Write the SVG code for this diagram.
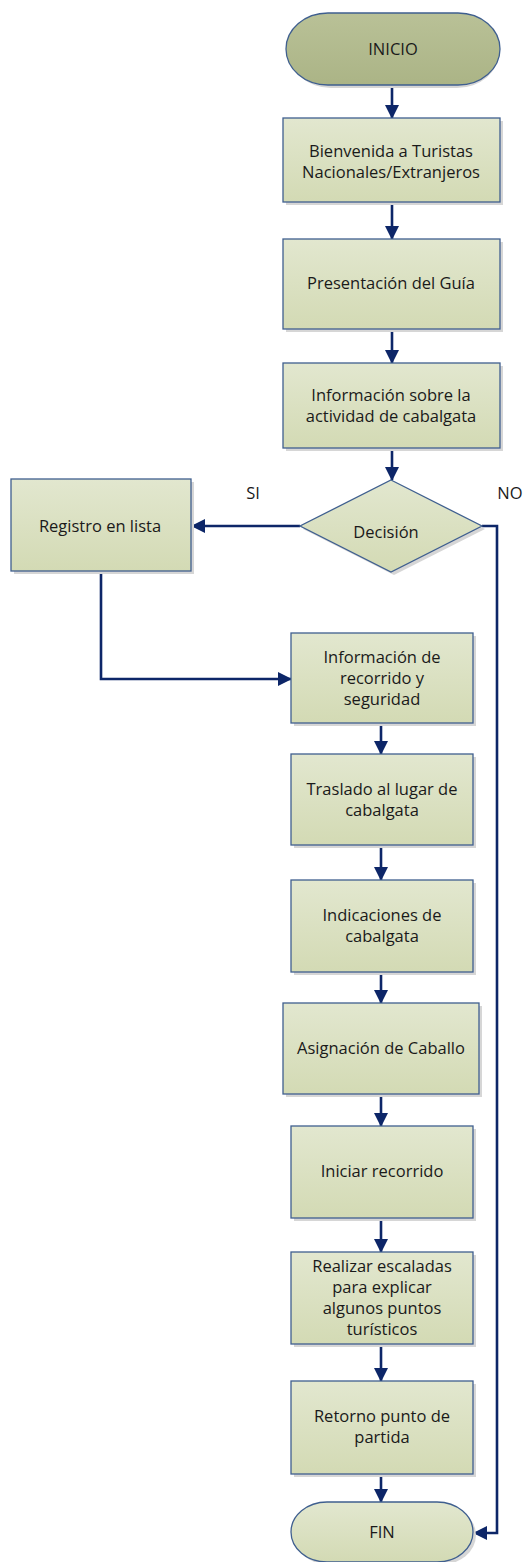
<svg xmlns="http://www.w3.org/2000/svg" width="527" height="1562" viewBox="0 0 527 1562">
<defs>
<linearGradient id="gBox" x1="0" y1="0" x2="0" y2="1">
<stop offset="0" stop-color="#e2e7cf"/>
<stop offset="1" stop-color="#d3dab4"/>
</linearGradient>
<linearGradient id="gStart" x1="0" y1="0" x2="0" y2="1">
<stop offset="0" stop-color="#b9c197"/>
<stop offset="1" stop-color="#abb486"/>
</linearGradient>
<marker id="arr" viewBox="0 0 14 14" refX="13" refY="7" markerWidth="14" markerHeight="14" markerUnits="userSpaceOnUse" orient="auto">
<path d="M0,0 L14,7 L0,14 Z" fill="#0d2668"/>
</marker>
<style>
.box{fill:url(#gBox);stroke:#3f5f8f;stroke-width:1.3}
.sh{fill:#d6d6d6}
.t{font-family:"Open Sans","Liberation Sans",sans-serif;font-size:16.5px;fill:#1a1a1a;text-anchor:middle}
.lbl{font-family:"Open Sans","Liberation Sans",sans-serif;font-size:16.5px;fill:#1a1a1a;text-anchor:middle}
.c{fill:none;stroke:#0d2668;stroke-width:2.6}
</style>
</defs>
<rect width="527" height="1562" fill="#ffffff"/>

<g id="connectors">
<line class="c" x1="392" y1="85" x2="392" y2="118" marker-end="url(#arr)"/>
<line class="c" x1="392" y1="202" x2="392" y2="239" marker-end="url(#arr)"/>
<line class="c" x1="392" y1="329" x2="392" y2="363" marker-end="url(#arr)"/>
<line class="c" x1="392" y1="448" x2="392" y2="480" marker-end="url(#arr)"/>
<line class="c" x1="300" y1="526" x2="192" y2="526" marker-end="url(#arr)"/>
<polyline class="c" points="101,571 101,679 291,679" marker-end="url(#arr)"/>
<polyline class="c" points="482,526 497,526 497,1533 474,1533" marker-end="url(#arr)"/>
<line class="c" x1="381" y1="723" x2="381" y2="754" marker-end="url(#arr)"/>
<line class="c" x1="381" y1="845" x2="381" y2="880" marker-end="url(#arr)"/>
<line class="c" x1="381" y1="972" x2="381" y2="1003" marker-end="url(#arr)"/>
<line class="c" x1="381" y1="1094" x2="381" y2="1126" marker-end="url(#arr)"/>
<line class="c" x1="381" y1="1218" x2="381" y2="1252" marker-end="url(#arr)"/>
<line class="c" x1="381" y1="1344" x2="381" y2="1381" marker-end="url(#arr)"/>
<line class="c" x1="381" y1="1474" x2="381" y2="1502" marker-end="url(#arr)"/>
<text class="lbl" x="253" y="499">SI</text>
<text class="lbl" x="510" y="499">NO</text>
</g>

<g id="inicio">
<path d="M331,16 H457 A42,36 0 0 1 457,88 H331 A42,36 0 0 1 331,16 Z" fill="#d6d6d6"/>
<path d="M328,13 H458 A42,36 0 0 1 458,85 H328 A42,36 0 0 1 328,13 Z" fill="url(#gStart)" stroke="#3f5f8f" stroke-width="1.3"/>
<text class="t" x="393" y="55">INICIO</text>
</g>

<g id="bienvenida">
<rect class="sh" x="286" y="121" width="217" height="84"/>
<rect class="box" x="283" y="118" width="217" height="84"/>
<text class="t" x="391" y="157">Bienvenida a Turistas</text>
<text class="t" x="391" y="178">Nacionales/Extranjeros</text>
</g>

<g id="presentacion">
<rect class="sh" x="286" y="242" width="217" height="90"/>
<rect class="box" x="283" y="239" width="217" height="90"/>
<text class="t" x="391" y="289">Presentación del Guía</text>
</g>

<g id="informacion-actividad">
<rect class="sh" x="286" y="366" width="217" height="85"/>
<rect class="box" x="283" y="363" width="217" height="85"/>
<text class="t" x="391" y="401">Información sobre la</text>
<text class="t" x="391" y="422">actividad de cabalgata</text>
</g>

<g id="decision">
<polygon points="394,483 485,529 394,575 303,529" fill="#d6d6d6"/>
<polygon points="391,480 482,526 391,572 300,526" fill="url(#gBox)" stroke="#3f5f8f" stroke-width="1.3"/>
<text class="t" x="386" y="538">Decisión</text>
</g>

<g id="registro">
<rect class="sh" x="14" y="482" width="180" height="92"/>
<rect class="box" x="11" y="479" width="180" height="92"/>
<text class="t" x="100" y="532">Registro en lista</text>
</g>

<g id="informacion-recorrido">
<rect class="sh" x="294" y="636" width="182" height="90"/>
<rect class="box" x="291" y="633" width="182" height="90"/>
<text class="t" x="382" y="663">Información de</text>
<text class="t" x="382" y="684">recorrido y</text>
<text class="t" x="382" y="705">seguridad</text>
</g>

<g id="traslado">
<rect class="sh" x="294" y="757" width="182" height="91"/>
<rect class="box" x="291" y="754" width="182" height="91"/>
<text class="t" x="382" y="795">Traslado al lugar de</text>
<text class="t" x="382" y="816">cabalgata</text>
</g>

<g id="indicaciones">
<rect class="sh" x="294" y="883" width="182" height="92"/>
<rect class="box" x="291" y="880" width="182" height="92"/>
<text class="t" x="382" y="921">Indicaciones de</text>
<text class="t" x="382" y="942">cabalgata</text>
</g>

<g id="asignacion">
<rect class="sh" x="286" y="1006" width="196" height="91"/>
<rect class="box" x="283" y="1003" width="196" height="91"/>
<text class="t" x="381" y="1054">Asignación de Caballo</text>
</g>

<g id="iniciar">
<rect class="sh" x="294" y="1129" width="182" height="92"/>
<rect class="box" x="291" y="1126" width="182" height="92"/>
<text class="t" x="382" y="1177">Iniciar recorrido</text>
</g>

<g id="realizar">
<rect class="sh" x="294" y="1255" width="182" height="92"/>
<rect class="box" x="291" y="1252" width="182" height="92"/>
<text class="t" x="382" y="1272">Realizar escaladas</text>
<text class="t" x="382" y="1293">para explicar</text>
<text class="t" x="382" y="1314">algunos puntos</text>
<text class="t" x="382" y="1335">turísticos</text>
</g>

<g id="retorno">
<rect class="sh" x="294" y="1384" width="182" height="93"/>
<rect class="box" x="291" y="1381" width="182" height="93"/>
<text class="t" x="382" y="1422">Retorno punto de</text>
<text class="t" x="382" y="1443">partida</text>
</g>

<g id="fin">
<path d="M330,1505 H440 A36,30 0 0 1 440,1565 H330 A36,30 0 0 1 330,1505 Z" fill="#d6d6d6"/>
<path d="M327,1502 H437 A36,30 0 0 1 437,1562 H327 A36,30 0 0 1 327,1502 Z" fill="url(#gBox)" stroke="#3f5f8f" stroke-width="1.3"/>
<text class="t" x="382" y="1538">FIN</text>
</g>
</svg>
